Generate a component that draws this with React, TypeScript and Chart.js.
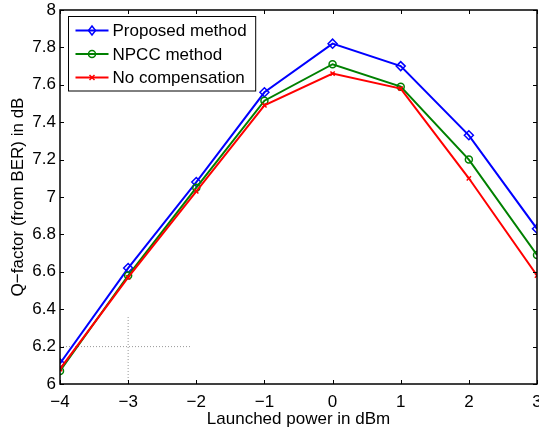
import React, { useEffect, useRef } from "react";
import { Chart, registerables } from "chart.js";

Chart.register(...registerables);

const powers = [-4, -3, -2, -1, 0, 1, 2, 3];
const proposed = [6.11, 6.62, 7.08, 7.56, 7.82, 7.70, 7.33, 6.83];
const npcc = [6.07, 6.58, 7.05, 7.515, 7.71, 7.59, 7.20, 6.69];
const noComp = [6.08, 6.57, 7.03, 7.49, 7.66, 7.58, 7.10, 6.58];
const seriesNames = ["Proposed method", "NPCC method", "No compensation"];
const guideVertical = [{ x: -3, y: 6 }, { x: -3, y: 6.36 }];
const guideHorizontal = [{ x: -4, y: 6.2 }, { x: -2.07, y: 6.2 }];

const FONT = "'Liberation Sans', Arial, Helvetica, sans-serif";
const minus = (v: number) => String(v).replace("-", "\u2212");

const toPts = (arr: number[]) => arr.map((y, i) => ({ x: powers[i], y }));

const boxPlugin = {
  id: "boxTicks",
  afterDraw(chart: any) {
    const { ctx, chartArea: a, scales } = chart;
    ctx.save();
    ctx.strokeStyle = "#000";
    ctx.lineWidth = 1;
    const tl = 4;
    ctx.beginPath();
    scales.x.ticks.forEach((t: any) => {
      const px = Math.round(scales.x.getPixelForValue(t.value)) + 0.5;
      ctx.moveTo(px, a.bottom); ctx.lineTo(px, a.bottom - tl);
      ctx.moveTo(px, a.top); ctx.lineTo(px, a.top + tl);
    });
    scales.y.ticks.forEach((t: any) => {
      const py = Math.round(scales.y.getPixelForValue(t.value)) + 0.5;
      ctx.moveTo(a.left, py); ctx.lineTo(a.left + tl, py);
      ctx.moveTo(a.right, py); ctx.lineTo(a.right - tl, py);
    });
    ctx.stroke();
    ctx.lineWidth = 1.5;
    ctx.strokeRect(Math.round(a.left), Math.round(a.top), Math.round(a.right - a.left), Math.round(a.bottom - a.top));

    // legend
    ctx.font = `17px ${FONT}`;
    const items = chart.data.datasets.slice(0, 3);
    const maxW = Math.max(...items.map((d: any) => ctx.measureText(d.label).width));
    const bx = Math.round(a.left + 8) + 0.5;
    const by = Math.round(a.top + 6) + 0.5;
    const rowH = 23.5;
    const bw = 44 + maxW + 9;
    const bh = rowH * 3 + 4;
    ctx.fillStyle = "#fff";
    ctx.fillRect(bx, by, bw, bh);
    ctx.strokeStyle = "#000";
    ctx.lineWidth = 1;
    ctx.strokeRect(bx, by, bw, bh);
    items.forEach((d: any, i: number) => {
      const cy = by + 14 + i * rowH;
      ctx.strokeStyle = d.borderColor;
      ctx.lineWidth = 2;
      ctx.beginPath();
      ctx.moveTo(bx + 7, cy);
      ctx.lineTo(bx + 40, cy);
      ctx.stroke();
      const mx = bx + 23.5;
      ctx.lineWidth = 1.5;
      ctx.beginPath();
      if (d.pointStyle === "rectRot") {
        ctx.moveTo(mx, cy - 4.5); ctx.lineTo(mx + 3.5, cy); ctx.lineTo(mx, cy + 4.5); ctx.lineTo(mx - 3.5, cy); ctx.closePath();
      } else if (d.pointStyle === "circle") {
        ctx.arc(mx, cy, 3.5, 0, Math.PI * 2);
      } else {
        ctx.moveTo(mx - 2.5, cy - 2.5); ctx.lineTo(mx + 2.5, cy + 2.5);
        ctx.moveTo(mx + 2.5, cy - 2.5); ctx.lineTo(mx - 2.5, cy + 2.5);
      }
      ctx.stroke();
      ctx.fillStyle = "#000";
      ctx.textBaseline = "middle";
      ctx.textAlign = "left";
      ctx.fillText(d.label, bx + 44, cy + 1);
    });
    ctx.restore();
  },
};

export default function App() {
  const ref = useRef<HTMLCanvasElement | null>(null);
  useEffect(() => {
    if (!ref.current) return;
    const guide = {
      borderColor: "#999",
      borderWidth: 1,
      borderDash: [1, 2],
      pointRadius: 0,
      fill: false,
      order: 5,
    };
    const chart = new Chart(ref.current, {
      type: "line",
      data: {
        datasets: [
          { label: seriesNames[0], data: toPts(proposed), borderColor: "#0000ff", pointBorderColor: "#0000ff", backgroundColor: "transparent", pointBackgroundColor: "transparent", pointStyle: "rectRot", pointRadius: 4.5, pointBorderWidth: 1.5, borderWidth: 2, order: 2 },
          { label: seriesNames[1], data: toPts(npcc), borderColor: "#008000", pointBorderColor: "#008000", backgroundColor: "transparent", pointBackgroundColor: "transparent", pointStyle: "circle", pointRadius: 3.5, pointBorderWidth: 1.5, borderWidth: 2, order: 1 },
          { label: seriesNames[2], data: toPts(noComp), borderColor: "#ff0000", pointBorderColor: "#ff0000", backgroundColor: "transparent", pointBackgroundColor: "transparent", pointStyle: "crossRot", pointRadius: 3, pointBorderWidth: 1.5, borderWidth: 2, order: 0 },
          { label: "guide1", data: guideVertical, ...guide } as any,
          { label: "guide2", data: guideHorizontal, ...guide } as any,
        ],
      },
      options: {
        animation: false,
        responsive: false,
        layout: { autoPadding: false, padding: { top: 10, right: 2, left: 0, bottom: 0 } },
        plugins: { legend: { display: false }, tooltip: { enabled: false } },
        elements: { line: { tension: 0 } },
        scales: {
          x: {
            type: "linear",
            min: -4,
            max: 3,
            ticks: { stepSize: 1, color: "#000", font: { family: FONT, size: 17 }, padding: 8, callback: (v: any) => minus(v) },
            grid: { display: false, drawTicks: false },
            border: { display: false },
            title: { display: true, text: "Launched power in dBm", color: "#000", font: { family: FONT, size: 17 }, padding: { top: 3, bottom: 0 } },
            afterFit: (s: any) => { s.height = 46; s.paddingLeft = 0; s.paddingRight = 0; s.paddingTop = 0; s.paddingBottom = 0; },
          },
          y: {
            min: 6,
            max: 8,
            ticks: { stepSize: 0.2, color: "#000", font: { family: FONT, size: 17 }, padding: 4, callback: (v: any) => minus(Math.round(v * 10) / 10) },
            grid: { display: false, drawTicks: false },
            border: { display: false },
            title: { display: true, text: "Q\u2212factor (from BER) in dB", color: "#000", font: { family: FONT, size: 17 }, padding: { top: 8, bottom: 0 } },
            afterFit: (s: any) => { s.width = 60; s.paddingLeft = 0; s.paddingRight = 0; s.paddingTop = 0; s.paddingBottom = 0; },
          },
        },
      },
      plugins: [boxPlugin],
    });
    return () => chart.destroy();
  }, []);
  return (
    <div style={{ position: "absolute", left: 0, top: 0, width: 539, height: 430, background: "#fff" }}>
      <canvas ref={ref} width={539} height={430} style={{ width: 539, height: 430, display: "block" }} />
    </div>
  );
}
